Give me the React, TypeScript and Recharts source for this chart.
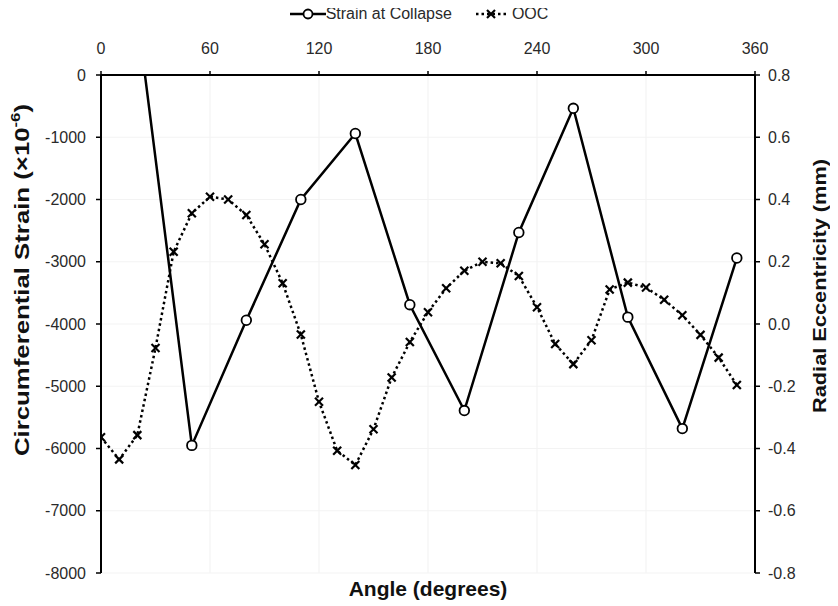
import React from 'react';
import { LineChart, Line, XAxis, YAxis, Legend, CartesianGrid } from 'recharts';

const strainAngles = [20, 50, 80, 110, 140, 170, 200, 230, 260, 290, 320, 350];
const strainValues = [970, -5950, -3940, -2000, -940, -3690, -5390, -2530, -535, -3890, -5680, -2940];

const oocAngles = [0, 10, 20, 30, 40, 50, 60, 70, 80, 90, 100, 110, 120, 130, 140, 150, 160, 170,
  180, 190, 200, 210, 220, 230, 240, 250, 260, 270, 280, 290, 300, 310, 320, 330, 340, 350];
const oocValues = [-0.364, -0.435, -0.357, -0.077, 0.232, 0.356, 0.409, 0.4, 0.35, 0.256, 0.131, -0.034,
  -0.25, -0.407, -0.453, -0.338, -0.172, -0.058, 0.038, 0.115, 0.171, 0.2, 0.195, 0.154, 0.054, -0.064,
  -0.129, -0.052, 0.111, 0.133, 0.117, 0.078, 0.028, -0.035, -0.108, -0.196];

const angleTicks = [0, 60, 120, 180, 240, 300, 360];
const strainTicks = [0, -1000, -2000, -3000, -4000, -5000, -6000, -7000, -8000];
const eccTicks = [0.8, 0.6, 0.4, 0.2, 0, -0.2, -0.4, -0.6, -0.8];

const strainData = strainAngles.map((a, i) => ({ angle: a, strain: strainValues[i] }));
const oocData = oocAngles.map((a, i) => ({ angle: a, ooc: oocValues[i] }));

const FONT = '"Liberation Sans", Arial, sans-serif';
const TEXT = '#2a2a2a';

const CircleDot = (props: any) => {
  const { cx, cy } = props;
  if (cx == null || cy == null) return null;
  return <circle cx={cx} cy={cy} r={4.8} fill="#ffffff" stroke="#000000" strokeWidth={1.8} />;
};

const CrossDot = (props: any) => {
  const { cx, cy } = props;
  if (cx == null || cy == null) return null;
  const s = 4;
  return (
    <g stroke="#000000" strokeWidth={2.2} strokeLinecap="butt">
      <line x1={cx - s} y1={cy - s} x2={cx + s} y2={cy + s} />
      <line x1={cx - s} y1={cy + s} x2={cx + s} y2={cy - s} />
    </g>
  );
};

const AxisTitle = (props: any) => {
  const vb = props.viewBox || {};
  const { side, text } = props;
  const style: any = { fontFamily: FONT, fontWeight: 700, fontSize: 20, fill: '#111111' };
  if (side === 'left') {
    const x = vb.x + 14;
    const y = vb.y + vb.height / 2 - 44;
    return (
      <text x={x} y={y} transform={`rotate(-90 ${x} ${y})`} textAnchor="middle" dominantBaseline="central"
        style={style} textLength={352} lengthAdjust="spacingAndGlyphs">
        Circumferential Strain (×10<tspan dy={-7} fontSize={13}>-6</tspan><tspan dy={7}>)</tspan>
      </text>
    );
  }
  if (side === 'right') {
    const x = vb.x + vb.width - 11;
    const y = vb.y + vb.height / 2 - 38;
    return (
      <text x={x} y={y} transform={`rotate(-90 ${x} ${y})`} textAnchor="middle" dominantBaseline="central"
        style={{ ...style, fontSize: 19 }} textLength={254} lengthAdjust="spacingAndGlyphs">
        {text}
      </text>
    );
  }
  const x = vb.x + vb.width / 2;
  const y = vb.y + 15;
  return (
    <text x={x} y={y} textAnchor="middle" dominantBaseline="central" style={{ ...style, fontSize: 21 }}>
      {text}
    </text>
  );
};

const LegendContent = () => (
  <div style={{ display: 'flex', justifyContent: 'center', alignItems: 'center', height: 12, fontFamily: FONT, fontSize: 16, color: TEXT, lineHeight: '12px' }}>
    <span style={{ display: 'inline-flex', alignItems: 'center' }}>
      <svg width={36} height={14}>
        <line x1={0} y1={7} x2={36} y2={7} stroke="#000" strokeWidth={2.5} />
        <circle cx={18} cy={7} r={4.5} fill="#fff" stroke="#000" strokeWidth={1.8} />
      </svg>
      <span>Strain at Collapse</span>
    </span>
    <span style={{ display: 'inline-flex', alignItems: 'center', marginLeft: 24 }}>
      <svg width={30} height={14}>
        <line x1={0} y1={7} x2={30} y2={7} stroke="#000" strokeWidth={2.5} strokeDasharray="2.5 3" />
        <g stroke="#000" strokeWidth={2.2}>
          <line x1={11} y1={3} x2={19} y2={11} />
          <line x1={11} y1={11} x2={19} y2={3} />
        </g>
      </svg>
      <span style={{ marginLeft: 6 }}>OOC</span>
    </span>
  </div>
);

const tickStyle = { fontFamily: FONT, fontSize: 16, fill: TEXT };

export default function App() {
  return (
    <div style={{ width: 822, height: 598 }}>
      <LineChart width={822} height={598} margin={{ top: 0, right: 0, bottom: 0, left: 0 }}>
        <CartesianGrid xAxisId="top" yAxisId="left" stroke="#f3f3f3" strokeWidth={1.2}
          horizontalValues={strainTicks} verticalValues={angleTicks} />
        <Legend verticalAlign="top" align="center" content={<LegendContent />} />
        <XAxis xAxisId="top" orientation="top" type="number" dataKey="angle" domain={[0, 360]}
          ticks={angleTicks} height={55} tickSize={4} tickMargin={17} tick={tickStyle}
          axisLine={{ stroke: '#000', strokeWidth: 2 }} tickLine={{ stroke: '#000', strokeWidth: 1.5 }}
          allowDataOverflow />
        <XAxis xAxisId="bottom" orientation="bottom" type="number" dataKey="angle" domain={[0, 360]}
          ticks={angleTicks} height={33} axisLine={false} tickLine={false} tick={false}
          label={<AxisTitle side="bottom" text="Angle (degrees)" />} />
        <YAxis yAxisId="left" orientation="left" type="number" domain={[-8000, 0]} ticks={strainTicks}
          width={93} tickSize={5} tickMargin={10} tick={tickStyle} allowDataOverflow
          axisLine={{ stroke: '#000', strokeWidth: 2 }} tickLine={{ stroke: '#000', strokeWidth: 1.5 }}
          label={<AxisTitle side="left" text="Circumferential Strain" />} />
        <YAxis yAxisId="right" orientation="right" type="number" domain={[-0.8, 0.8]} ticks={eccTicks}
          width={75} tickSize={5} tickMargin={8} tick={tickStyle} allowDataOverflow
          tickFormatter={(v: number) => v.toFixed(1)}
          axisLine={{ stroke: '#000', strokeWidth: 2 }} tickLine={{ stroke: '#000', strokeWidth: 1.5 }}
          label={<AxisTitle side="right" text="Radial Eccentricity (mm)" />} />
        <Line xAxisId="top" yAxisId="right" data={oocData} dataKey="ooc" name="OOC" stroke="#000"
          strokeWidth={2.5} strokeDasharray="2.5 3" dot={<CrossDot />} activeDot={false}
          isAnimationActive={false} />
        <Line xAxisId="top" yAxisId="left" data={strainData} dataKey="strain" name="Strain at Collapse"
          stroke="#000" strokeWidth={2.5} dot={<CircleDot />} activeDot={false}
          isAnimationActive={false} />
      </LineChart>
    </div>
  );
}
